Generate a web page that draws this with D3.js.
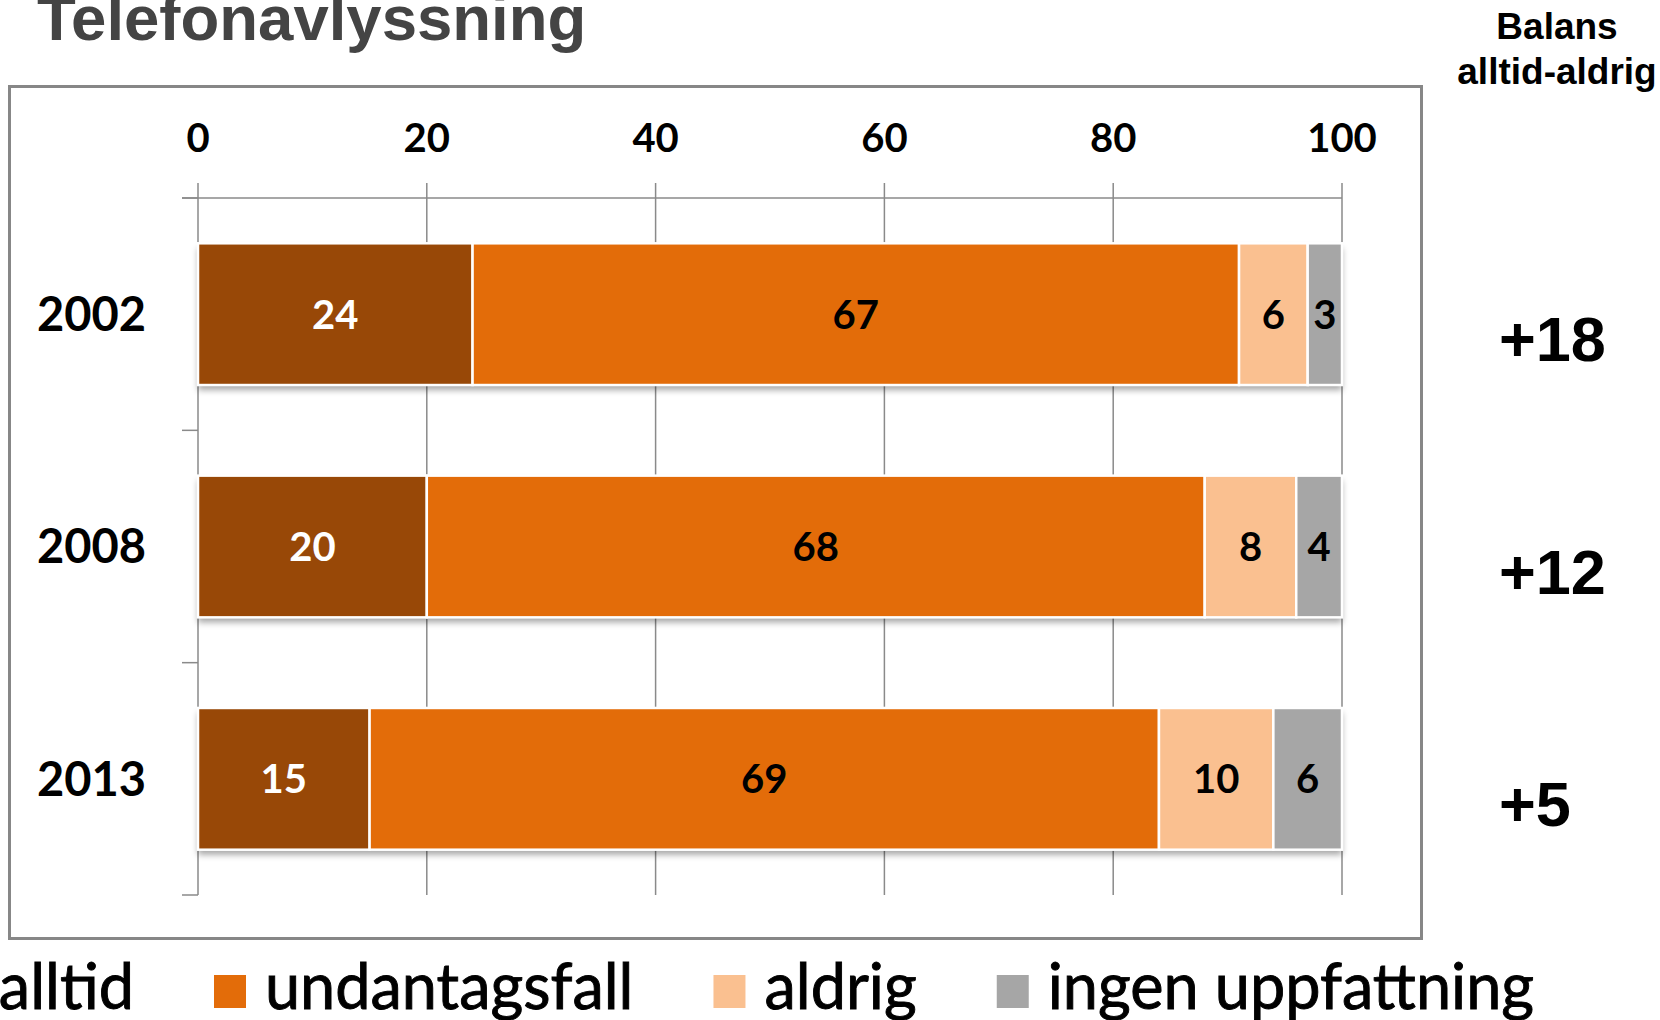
<!DOCTYPE html>
<html>
<head>
<meta charset="utf-8">
<script src="https://cdn.jsdelivr.net/npm/d3@7"></script>
<style>
  html, body { margin: 0; padding: 0; background: #fff; overflow: hidden; }
  svg { display: block; }
</style>
</head>
<body>
<svg id="chart" width="1660" height="1020"></svg>
<script>
// ---- data ----
const years = ["2002", "2008", "2013"];
const seriesNames = ["alltid", "undantagsfall", "aldrig", "ingen uppfattning"];
const alltid = [24, 20, 15];
const undantagsfall = [67, 68, 69];
const aldrig = [6, 8, 10];
const ingenUppfattning = [3, 4, 6];
const xTicks = [0, 20, 40, 60, 80, 100];
const titleText = "Telefonavlyssning";
const balanceHeader = ["Balans", "alltid-aldrig"];
const seriesColors = ["#984807", "#E36C09", "#FAC090", "#A6A6A6"];
const labelColors = ["#ffffff", "#000000", "#000000", "#000000"];

// ---- build table ----
const seriesValues = [alltid, undantagsfall, aldrig, ingenUppfattning];
const table = years.map((y, i) => {
  const row = { year: y };
  seriesNames.forEach((s, j) => row[s] = seriesValues[j][i]);
  return row;
});
const stacked = d3.stack().keys(seriesNames)(table);

const svg = d3.select("#chart");
const defs = svg.append("defs");
const f = defs.append("filter").attr("id", "shadow")
  .attr("x", "-5%").attr("y", "-10%").attr("width", "110%").attr("height", "130%");
f.append("feDropShadow").attr("dx", 0).attr("dy", 5).attr("stdDeviation", 3)
  .attr("flood-color", "#000").attr("flood-opacity", 0.35);

// ---- title ----
svg.append("text")
  .attr("x", 37).attr("y", 40)
  .attr("font-family", "Liberation Sans, Arial, sans-serif")
  .attr("font-weight", "bold").attr("font-size", 63.5)
  .attr("fill", "#444444")
  .text(titleText);

// ---- balance header ----
svg.append("text")
  .attr("x", 1557).attr("y", 39)
  .attr("text-anchor", "middle")
  .attr("font-family", "Liberation Sans, Arial, sans-serif")
  .attr("font-weight", "bold").attr("font-size", 37)
  .attr("fill", "#000")
  .selectAll("tspan").data(balanceHeader).join("tspan")
  .attr("x", 1557).attr("dy", (d, i) => i === 0 ? 0 : 45)
  .text(d => d);

// ---- frame ----
svg.append("rect")
  .attr("x", 9.5).attr("y", 86.5).attr("width", 1412).attr("height", 852)
  .attr("fill", "none").attr("stroke", "#878787").attr("stroke-width", 3);

// ---- scales ----
const x = d3.scaleLinear().domain([0, 100]).range([198, 1342]);
const y = d3.scaleBand().domain(years).range([198, 895])
  .paddingInner(0.39).paddingOuter(0.195);

const gridColor = "#8a8a8a";

// gridlines + ticks above axis
svg.append("g").selectAll("line").data(xTicks).join("line")
  .attr("x1", d => x(d)).attr("x2", d => x(d))
  .attr("y1", 183).attr("y2", 895)
  .attr("stroke", gridColor).attr("stroke-width", 1.5);

// top axis line
svg.append("line")
  .attr("x1", 182).attr("x2", x(100)).attr("y1", 198).attr("y2", 198)
  .attr("stroke", gridColor).attr("stroke-width", 1.5);

// left axis category boundary ticks
const step = y.step();
const boundaries = d3.range(years.length + 1).map(i => 198 + i * step);
svg.append("g").selectAll("line").data(boundaries).join("line")
  .attr("x1", 182).attr("x2", x(0))
  .attr("y1", d => d).attr("y2", d => d)
  .attr("stroke", gridColor).attr("stroke-width", 1.5);

// x tick labels
svg.append("g").selectAll("text").data(xTicks).join("text")
  .attr("x", d => x(d)).attr("y", 152)
  .attr("text-anchor", "middle")
  .attr("font-family", "Lato, sans-serif").attr("font-weight", "bold")
  .attr("font-size", 40).attr("fill", "#000")
  .text(d => d);

// year labels
svg.append("g").selectAll("text").data(years).join("text")
  .attr("x", 146).attr("y", d => y(d) + y.bandwidth() / 2)
  .attr("dy", "0.36em")
  .attr("text-anchor", "end")
  .attr("font-family", "Lato, sans-serif").attr("font-weight", "bold")
  .attr("font-size", 47).attr("fill", "#000")
  .text(d => d);

// ---- bars ----
const barG = svg.append("g");
barG.selectAll("rect.shadow").data(table).join("rect")
  .attr("class", "shadow")
  .attr("x", x(0)).attr("y", d => y(d.year))
  .attr("width", x(100) - x(0)).attr("height", y.bandwidth())
  .attr("fill", "#fff").attr("filter", "url(#shadow)");

stacked.forEach((layer, j) => {
  const g = barG.append("g");
  g.selectAll("rect").data(layer).join("rect")
    .attr("x", d => x(d[0])).attr("y", d => y(d.data.year))
    .attr("width", d => x(d[1]) - x(d[0])).attr("height", y.bandwidth())
    .attr("fill", seriesColors[j]).attr("stroke", "#fff").attr("stroke-width", 2.5);
  g.selectAll("text").data(layer).join("text")
    .attr("x", d => (x(d[0]) + x(d[1])) / 2)
    .attr("y", d => y(d.data.year) + y.bandwidth() / 2)
    .attr("dy", "0.36em")
    .attr("text-anchor", "middle")
    .attr("font-family", "Lato, sans-serif").attr("font-weight", "bold")
    .attr("font-size", 40).attr("fill", labelColors[j])
    .text(d => d[1] - d[0]);
});

// ---- balance values ----
svg.append("g").selectAll("text").data(table).join("text")
  .attr("x", 1499).attr("y", d => y(d.year) + y.bandwidth() / 2 + 47)
  .attr("font-family", "Liberation Sans, Arial, sans-serif")
  .attr("font-weight", "bold").attr("font-size", 63).attr("fill", "#000")
  .text(d => "+" + (d["alltid"] - d["aldrig"]));

// ---- legend ----
const legend = svg.append("g");
const legFont = 63, sq = 32, sqGap = 19, itemGap = 80, legBase = 1009;
const items = legend.selectAll("g").data(seriesNames).join("g");
items.append("rect")
  .attr("width", sq).attr("height", 33).attr("y", legBase - 34)
  .attr("fill", (d, i) => seriesColors[i]);
items.append("text")
  .attr("y", legBase)
  .attr("font-family", "Lato, sans-serif")
  .attr("font-size", legFont).attr("fill", "#000")
  .attr("stroke", "#000").attr("stroke-width", 0.9)
  .text(d => d);
// flow layout: first label ends at x = 134
let widths = [];
items.select("text").each(function() { widths.push(this.getComputedTextLength()); });
let cursor = 134 - widths[0] - sqGap - sq;
items.each(function(d, i) {
  const g = d3.select(this);
  g.select("rect").attr("x", cursor);
  g.select("text").attr("x", cursor + sq + sqGap);
  cursor += sq + sqGap + widths[i] + itemGap;
});
</script>
</body>
</html>
